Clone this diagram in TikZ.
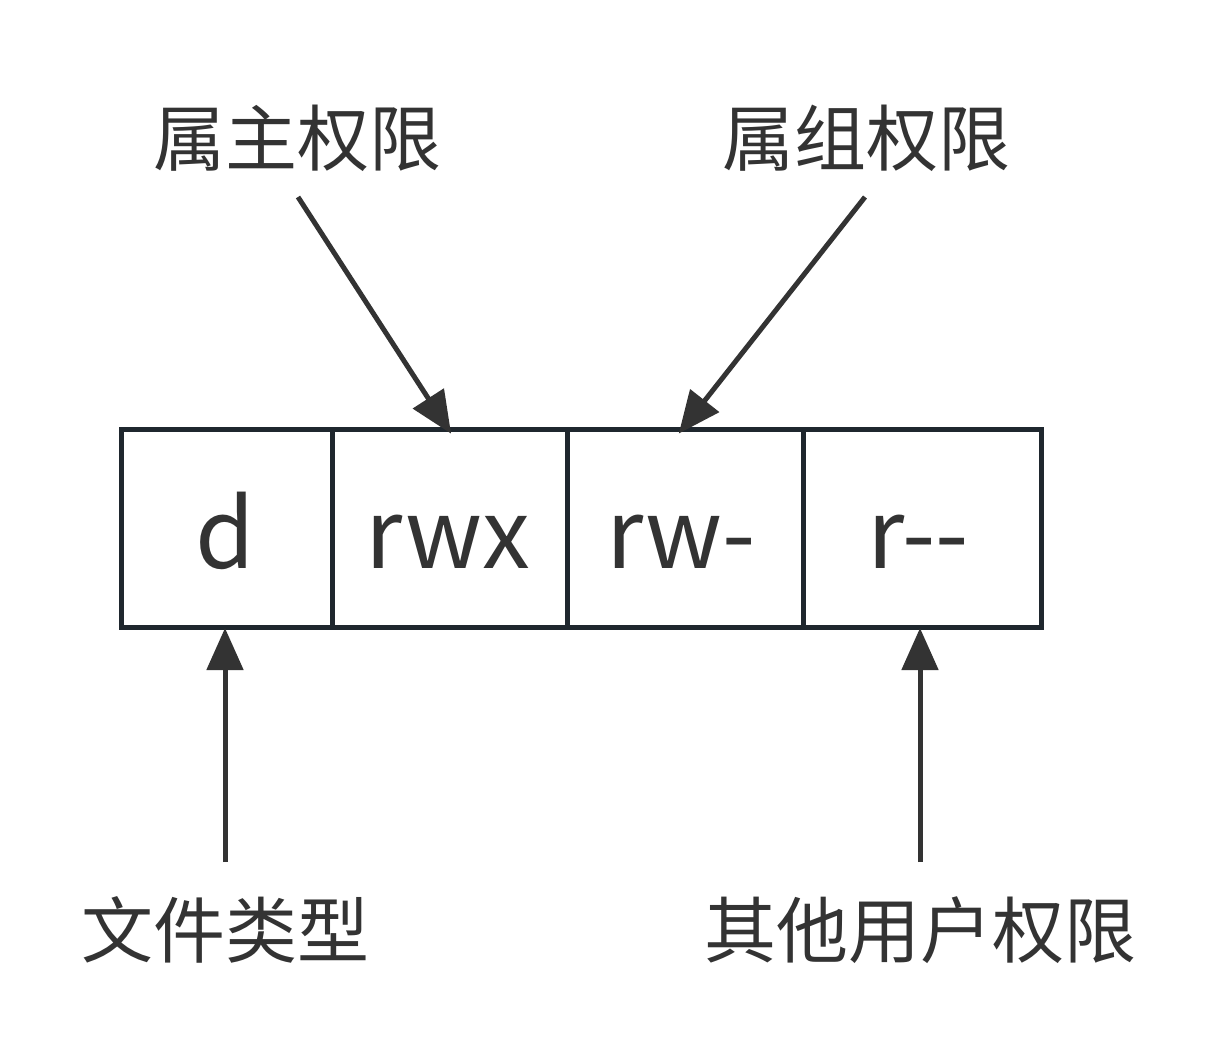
\documentclass[tikz,border=0pt]{standalone}
\usepackage{fontspec}
\setmainfont{Noto Sans CJK SC}
\usetikzlibrary{arrows.meta}
\definecolor{boxc}{HTML}{1F272E}
\definecolor{txtc}{HTML}{333333}
\tikzset{
  cellbox/.style={draw=boxc, line width=5pt, minimum height=198pt, inner sep=0pt, anchor=south west},
  celltxt/.style={text=txtc, font=\fontsize{96}{96}\selectfont, anchor=base},
  lbl/.style={text=txtc, font=\fontsize{72}{72}\selectfont, inner sep=0pt},
  arr/.style={draw=txtc, line width=5pt, -{Triangle[length=42pt, width=36pt]}, shorten >=-2pt}
}
\begin{document}
\begin{tikzpicture}[x=1pt,y=1pt]
\useasboundingbox[fill=white] (0,-1062) rectangle (1217,0);
\node[cellbox, minimum width=211pt] (c1) at (119,-630) {};
\node[cellbox, minimum width=235pt] (c2) at (330,-630) {};
\node[cellbox, minimum width=236pt] (c3) at (565,-630) {};
\node[cellbox, minimum width=238pt] (c4) at (801,-630) {};
\node[celltxt] (t1) at (225,-568) {d};
\node[celltxt] (t2) at (448,-568) {rwx};
\node[celltxt] (t3) at (681,-568) {rw-};
\node[celltxt] (t4) at (918,-568) {r-{}-};
\node[lbl] (l1) at (297,-138) {属主权限};
\node[lbl] (l2) at (866,-138) {属组权限};
\node[lbl] (l3) at (225,-930) {文件类型};
\node[lbl] (l4) at (920,-930) {其他用户权限};
\coordinate (a1s) at (298,-197);
\coordinate (a1e) at (450,-432);
\coordinate (a2s) at (865,-197);
\coordinate (a2e) at (680,-432);
\coordinate (a3s) at (225,-862);
\coordinate (a3e) at (225,-630);
\coordinate (a4s) at (920,-862);
\coordinate (a4e) at (920,-630);
\draw[arr] (a1s) -- (a1e);
\draw[arr] (a2s) -- (a2e);
\draw[arr] (a3s) -- (a3e);
\draw[arr] (a4s) -- (a4e);
\end{tikzpicture}
\end{document}
